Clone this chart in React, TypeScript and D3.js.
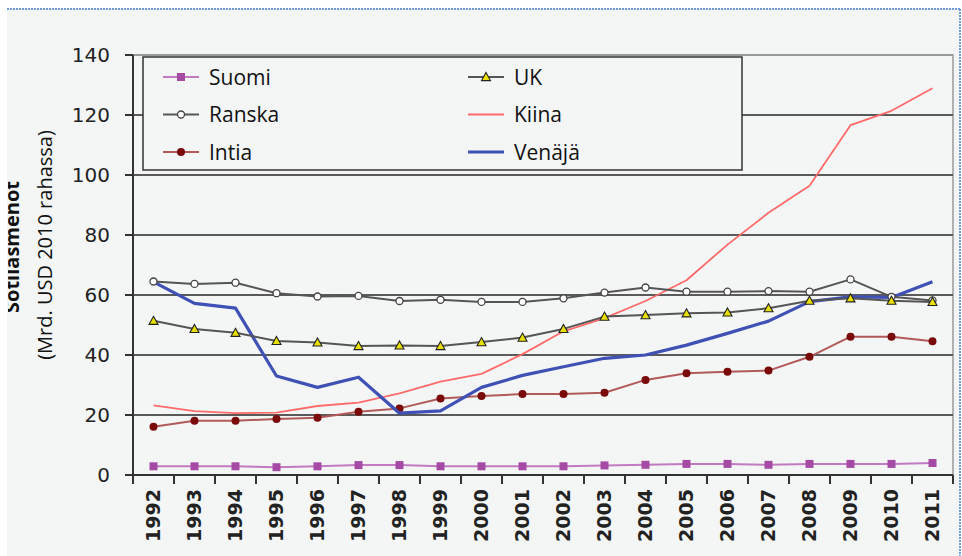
import React from "react";
import * as d3 from "d3";

const years = ["1992","1993","1994","1995","1996","1997","1998","1999","2000","2001","2002","2003","2004","2005","2006","2007","2008","2009","2010","2011"];
const suomi = [2.9,2.9,2.9,2.6,2.9,3.3,3.3,2.9,2.9,2.9,2.9,3.2,3.4,3.7,3.7,3.4,3.7,3.7,3.7,4.0];
const ranska = [64.5,63.7,64.1,60.6,59.5,59.7,58.0,58.4,57.7,57.7,58.9,60.8,62.5,61.1,61.1,61.3,61.1,65.2,59.4,58.2];
const intia = [16.1,18.1,18.1,18.7,19.1,21.1,22.2,25.5,26.3,27.0,27.0,27.4,31.7,33.9,34.4,34.8,39.4,46.1,46.1,44.6];
const uk = [51.4,48.7,47.4,44.7,44.2,43.0,43.2,43.0,44.3,45.8,48.7,52.8,53.3,53.9,54.2,55.6,58.1,58.9,58.1,57.7];
const kiina = [23.2,21.3,20.6,20.8,23.0,24.1,27.2,31.1,33.7,40.3,47.9,52.3,58.0,64.9,76.8,87.4,96.4,116.6,121.4,128.9];
const venaja = [64.4,57.2,55.6,33.0,29.2,32.6,20.6,21.4,29.2,33.2,36.1,38.9,40.0,43.3,47.2,51.3,57.8,59.4,59.2,64.4];
const yTicks = [0,20,40,60,80,100,120,140];

const W = 962, H = 556;
const L = 133, R = 953, T = 55, B = 475;

export default function App() {
  const x = d3.scaleBand<string>().domain(years).range([L, R]);
  const y = d3.scaleLinear().domain([0, 140]).range([B, T]);
  const cx = (i: number) => (x(years[i]) as number) + x.bandwidth() / 2;
  const line = d3.line<number>().x((_, i) => cx(i)).y((d) => y(d));

  const fontTick = "'DejaVu Sans', Verdana, sans-serif";
  const fontLeg = "'Open Sans', 'Noto Sans', sans-serif";

  const tri = (px: number, py: number, s = 4.5) =>
    `M${px},${py - s}L${px + s},${py + s * 0.8}L${px - s},${py + s * 0.8}Z`;

  const legend = [
    { name: "Suomi", col: 0, row: 0, kind: "suomi" },
    { name: "UK", col: 1, row: 0, kind: "uk" },
    { name: "Ranska", col: 0, row: 1, kind: "ranska" },
    { name: "Kiina", col: 1, row: 1, kind: "kiina" },
    { name: "Intia", col: 0, row: 2, kind: "intia" },
    { name: "Venäjä", col: 1, row: 2, kind: "venaja" },
  ];

  const marker = (kind: string, px: number, py: number, key: any) => {
    if (kind === "suomi")
      return <rect key={key} x={px - 4} y={py - 4} width={8} height={8} fill="#a54aa5" />;
    if (kind === "ranska")
      return <circle key={key} cx={px} cy={py} r={3.5} fill="#ffffff" stroke="#444" strokeWidth={1.3} />;
    if (kind === "intia")
      return <circle key={key} cx={px} cy={py} r={4} fill="#7a0a0a" />;
    if (kind === "uk")
      return <path key={key} d={tri(px, py)} fill="#e8e000" stroke="#222" strokeWidth={1.1} />;
    return null;
  };

  const style: Record<string, { color: string; width: number }> = {
    suomi: { color: "#c27ac2", width: 2 },
    ranska: { color: "#555555", width: 2 },
    intia: { color: "#b25a5a", width: 2 },
    uk: { color: "#555555", width: 2 },
    kiina: { color: "#ff6a6a", width: 1.8 },
    venaja: { color: "#3f51b5", width: 3.2 },
  };

  const series: { kind: string; data: number[] }[] = [
    { kind: "kiina", data: kiina },
    { kind: "suomi", data: suomi },
    { kind: "intia", data: intia },
    { kind: "venaja", data: venaja },
    { kind: "ranska", data: ranska },
    { kind: "uk", data: uk },
  ];

  return (
    <svg width={W} height={H} style={{ position: "absolute", left: 0, top: 0 }}>
      <defs>
        <clipPath id="chartClip">
          <rect x={8} y={9} width={952} height={547} />
        </clipPath>
      </defs>
      <rect x={0} y={0} width={W} height={H} fill="#ffffff" />
      <rect x={7} y={9} width={953} height={547} fill="#f4f6f6" />
      <line x1={7} x2={960} y1={9} y2={9} stroke="#6f9bd6" strokeWidth={2} strokeDasharray="2,1" />
      <line x1={960} x2={960} y1={9} y2={556} stroke="#6f9bd6" strokeWidth={2} strokeDasharray="2,1" />

      {/* plot area border */}
      <rect x={L} y={T} width={R - L} height={B - T} fill="none" stroke="#9a9a9a" strokeWidth={1.5} />

      {/* gridlines */}
      {yTicks.map((t) => (
        <line key={"g" + t} x1={L} x2={R} y1={y(t)} y2={y(t)} stroke={t === 140 ? "#9a9a9a" : "#5a5a5a"} strokeWidth={2} />
      ))}

      {/* axes */}
      <line x1={L} x2={L} y1={T} y2={B} stroke="#333" strokeWidth={2} />
      <line x1={L} x2={R} y1={B} y2={B} stroke="#333" strokeWidth={2} />
      {yTicks.map((t) => (
        <g key={"yt" + t}>
          <line x1={L - 8} x2={L} y1={y(t)} y2={y(t)} stroke="#333" strokeWidth={2} />
          <text x={110} y={y(t)} dy="0.36em" textAnchor="end" fontFamily={fontTick} fontSize={20} fill="#222">{t}</text>
        </g>
      ))}
      {years.map((yr) => (
        <line key={"xt" + yr} x1={x(yr) as number} x2={x(yr) as number} y1={B} y2={B + 9} stroke="#333" strokeWidth={2} />
      ))}
      <line x1={R} x2={R} y1={B} y2={B + 9} stroke="#333" strokeWidth={2} />
      {years.map((yr, i) => (
        <text key={"xl" + yr} transform={`translate(${cx(i)},${489}) rotate(-90)`} textAnchor="end" dy="0.36em"
          fontFamily={fontTick} fontSize={19} fontWeight="bold" fill="#222">{yr}</text>
      ))}

      {/* y axis titles */}
      <g clipPath="url(#chartClip)">
        <text transform={`translate(${19},${247}) rotate(-90)`} textAnchor="middle"
          fontFamily={fontLeg} fontSize={20} fontWeight="bold" fill="#111">Sotilasmenot</text>
      </g>
      <text transform={`translate(${45},${245}) rotate(-90)`} textAnchor="middle" dy="0.36em"
        fontFamily={fontLeg} fontSize={20} fill="#111">(Mrd. USD 2010 rahassa)</text>

      {/* series */}
      {series.map((s) => (
        <g key={s.kind}>
          <path d={line(s.data) || ""} fill="none" stroke={style[s.kind].color} strokeWidth={style[s.kind].width} strokeLinejoin="round" />
          {s.data.map((v, i) => marker(s.kind, cx(i), y(v), s.kind + i))}
        </g>
      ))}

      {/* legend */}
      <rect x={143} y={57} width={599} height={113} fill="#f4f6f6" stroke="#333" strokeWidth={1.5} />
      {legend.map((e) => {
        const lx = e.col === 0 ? 163 : 468;
        const ly = 77 + e.row * 37.5;
        return (
          <g key={e.name}>
            <line x1={lx} x2={lx + 36} y1={ly} y2={ly} stroke={style[e.kind].color} strokeWidth={e.kind === "venaja" ? 3.2 : 2} />
            {marker(e.kind, lx + 18, ly, "m" + e.name)}
            <text x={lx + 46} y={ly} dy="0.36em" fontFamily={fontLeg} fontSize={21} fill="#111">{e.name}</text>
          </g>
        );
      })}
    </svg>
  );
}
